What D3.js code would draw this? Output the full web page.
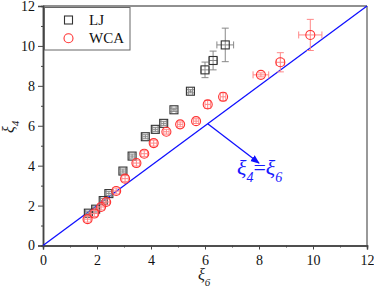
<!DOCTYPE html>
<html>
<head>
<meta charset="utf-8">
<script src="https://cdn.jsdelivr.net/npm/d3@7"></script>
<style>
  body { margin: 0; background: #fff; }
  svg, svg text { font-family: "Liberation Serif", "Times New Roman", Times, serif !important; }
</style>
</head>
<body>
<div id="chart"></div>
<script>
var width = 374;
var height = 292;

// LJ data
var ljX = [1.68, 1.95, 2.23, 2.44, 2.96, 3.3, 3.79, 4.16, 4.47, 4.85, 5.46, 6.0, 6.3, 6.75];
var ljY = [1.62, 1.82, 2.25, 2.6, 3.73, 4.48, 5.45, 5.82, 6.12, 6.8, 7.73, 8.8, 9.27, 10.05];
var ljXErr = [0.1, 0.1, 0.1, 0.1, 0.1, 0.1, 0.1, 0.1, 0.1, 0.08, 0.08, 0.15, 0.15, 0.31];
var ljYErr = [0.1, 0.1, 0.1, 0.1, 0.1, 0.1, 0.1, 0.1, 0.1, 0.08, 0.08, 0.39, 0.47, 0.84];

// WCA data
var wcaX = [1.65, 1.9, 2.15, 2.34, 2.71, 3.04, 3.46, 3.75, 4.1, 4.57, 5.08, 5.67, 6.1, 6.67, 8.07, 8.79, 9.9];
var wcaY = [1.32, 1.6, 1.93, 2.18, 2.73, 3.35, 4.13, 4.6, 5.13, 5.7, 6.07, 6.23, 7.07, 7.45, 8.55, 9.18, 10.55];
var wcaXErr = [0.12, 0.12, 0.12, 0.12, 0.12, 0.12, 0.12, 0.12, 0.12, 0.1, 0.1, 0.1, 0.1, 0.1, 0.29, 0.15, 0.43];
var wcaYErr = [0.15, 0.15, 0.15, 0.15, 0.15, 0.15, 0.15, 0.15, 0.15, 0.12, 0.12, 0.12, 0.2, 0.2, 0.1, 0.48, 0.78];

var majorTicks = [0, 2, 4, 6, 8, 10, 12];
var minorTicks = [1, 3, 5, 7, 9, 11];

var x = d3.scaleLinear().domain([0, 12]).range([43, 367]);
var y = d3.scaleLinear().domain([0, 12]).range([245.5, 6]);

var svg = d3.select("#chart").append("svg")
    .attr("width", width)
    .attr("height", height);

// frame: top and right
svg.append("line").attr("x1", x(0)).attr("x2", x(12)).attr("y1", y(12)).attr("y2", y(12))
    .attr("stroke", "#222").attr("stroke-width", 1.2);
svg.append("line").attr("x1", x(12)).attr("x2", x(12)).attr("y1", y(12)).attr("y2", y(0))
    .attr("stroke", "#999").attr("stroke-width", 2);

// axes
function styleAxis(g) {
    g.attr("font-family", null);
    g.selectAll("path").attr("stroke", "#444").attr("stroke-width", 1.5);
    g.selectAll("line").attr("stroke", "#444").attr("stroke-width", 1);
    g.selectAll("text").attr("font-size", 14).attr("fill", "#111");
}

var xAxis = svg.append("g").attr("transform", "translate(0," + y(0) + ")")
    .call(d3.axisBottom(x).tickValues(majorTicks).tickFormat(d3.format("d")).tickSizeOuter(0).tickSize(4).tickPadding(6));
styleAxis(xAxis);
svg.append("g").attr("transform", "translate(0," + y(0) + ")")
    .call(d3.axisBottom(x).tickValues(minorTicks).tickFormat("").tickSizeOuter(0).tickSize(2))
    .call(styleAxis);

var yAxis = svg.append("g").attr("transform", "translate(" + x(0) + ",0)")
    .call(d3.axisLeft(y).tickValues(majorTicks).tickFormat(d3.format("d")).tickSizeOuter(0).tickSize(5).tickPadding(3));
styleAxis(yAxis);
svg.append("g").attr("transform", "translate(" + x(0) + ",0)")
    .call(d3.axisLeft(y).tickValues(minorTicks).tickFormat("").tickSizeOuter(0).tickSize(2))
    .call(styleAxis);

// axis titles
var xt = svg.append("text").attr("x", 198).attr("y", 280)
    .attr("font-size", 16).attr("font-style", "italic").attr("fill", "#222");
xt.append("tspan").text("ξ");
xt.append("tspan").attr("dy", 6).attr("font-size", 11).text("6");

var yt = svg.append("text").attr("transform", "translate(14,133) rotate(-90)")
    .attr("font-size", 16).attr("font-style", "italic").attr("fill", "#222");
yt.append("tspan").text("ξ");
yt.append("tspan").attr("dy", 5).attr("font-size", 11).text("4");

// y = x line
svg.append("line")
    .attr("x1", x(0)).attr("y1", y(0)).attr("x2", x(12)).attr("y2", y(12))
    .attr("stroke", "#1010ff").attr("stroke-width", 1.3);

// annotation arrow
svg.append("defs").append("marker")
    .attr("id", "arrow").attr("viewBox", "0 0 10 10")
    .attr("refX", 9).attr("refY", 5)
    .attr("markerWidth", 7).attr("markerHeight", 7)
    .attr("orient", "auto")
    .append("path").attr("d", "M0,1 L10,5 L0,9 Z").attr("fill", "#1010ff");

svg.append("line")
    .attr("x1", x(6.1)).attr("y1", y(6.1)).attr("x2", x(8.0)).attr("y2", y(4.13))
    .attr("stroke", "#1010ff").attr("stroke-width", 1.3)
    .attr("marker-end", "url(#arrow)");

var ann = svg.append("text").attr("x", 237).attr("y", 175)
    .attr("font-size", 22).attr("font-style", "italic").attr("fill", "#1a1aff");
ann.append("tspan").text("ξ");
ann.append("tspan").attr("dy", 7).attr("font-size", 14).text("4");
ann.append("tspan").attr("dy", -7).attr("font-style", "normal").text("=");
ann.append("tspan").text("ξ");
ann.append("tspan").attr("dy", 7).attr("font-size", 14).text("6");

// error bars + markers
function drawSeries(xs, ys, xe, ye, barColor, markColor, shape) {
    var data = xs.map(function (d, i) { return { x: d, y: ys[i], xe: xe[i], ye: ye[i] }; });
    var g = svg.append("g");
    var cap = 3.5;
    var eb = g.selectAll("g.eb").data(data).enter().append("g")
        .attr("stroke", barColor).attr("stroke-width", 1);
    eb.append("line")
        .attr("x1", function (d) { return x(d.x - d.xe); })
        .attr("x2", function (d) { return x(d.x + d.xe); })
        .attr("y1", function (d) { return y(d.y); })
        .attr("y2", function (d) { return y(d.y); });
    eb.append("line")
        .attr("x1", function (d) { return x(d.x); })
        .attr("x2", function (d) { return x(d.x); })
        .attr("y1", function (d) { return y(d.y - d.ye); })
        .attr("y2", function (d) { return y(d.y + d.ye); });
    // caps
    eb.append("path")
        .attr("fill", "none")
        .attr("d", function (d) {
            var cx = x(d.x), cy = y(d.y);
            var x0 = x(d.x - d.xe), x1 = x(d.x + d.xe);
            var y0 = y(d.y - d.ye), y1 = y(d.y + d.ye);
            return "M" + x0 + "," + (cy - cap) + "V" + (cy + cap) +
                "M" + x1 + "," + (cy - cap) + "V" + (cy + cap) +
                "M" + (cx - cap) + "," + y0 + "H" + (cx + cap) +
                "M" + (cx - cap) + "," + y1 + "H" + (cx + cap);
        });

    if (shape === "square") {
        g.selectAll("rect.m").data(data).enter().append("rect")
            .attr("x", function (d) { return x(d.x) - 4; })
            .attr("y", function (d) { return y(d.y) - 4; })
            .attr("width", 8).attr("height", 8)
            .attr("fill", "none").attr("stroke", markColor).attr("stroke-width", 1.1);
    } else {
        g.selectAll("circle.m").data(data).enter().append("circle")
            .attr("cx", function (d) { return x(d.x); })
            .attr("cy", function (d) { return y(d.y); })
            .attr("r", 4.5)
            .attr("fill", "none").attr("stroke", markColor).attr("stroke-width", 1.1);
    }
}

drawSeries(ljX, ljY, ljXErr, ljYErr, "#888", "#333", "square");
drawSeries(wcaX, wcaY, wcaXErr, wcaYErr, "#ff8888", "#ff3030", "circle");

// legend
var lg = svg.append("g");
lg.append("rect").attr("x", 44.5).attr("y", 7.5).attr("width", 85.5).attr("height", 42.5)
    .attr("fill", "#fff").attr("stroke", "#666").attr("stroke-width", 1);
lg.append("rect").attr("x", 64.5).attr("y", 16).attr("width", 8).attr("height", 8)
    .attr("fill", "none").attr("stroke", "#333").attr("stroke-width", 1.1);
lg.append("circle").attr("cx", 68.5).attr("cy", 38.3).attr("r", 4.5)
    .attr("fill", "none").attr("stroke", "#ff3030").attr("stroke-width", 1.1);
lg.append("text").attr("x", 89).attr("y", 25).attr("font-size", 15).attr("fill", "#111").text("LJ");
lg.append("text").attr("x", 89).attr("y", 43).attr("font-size", 15).attr("fill", "#111").text("WCA");
</script>
</body>
</html>
